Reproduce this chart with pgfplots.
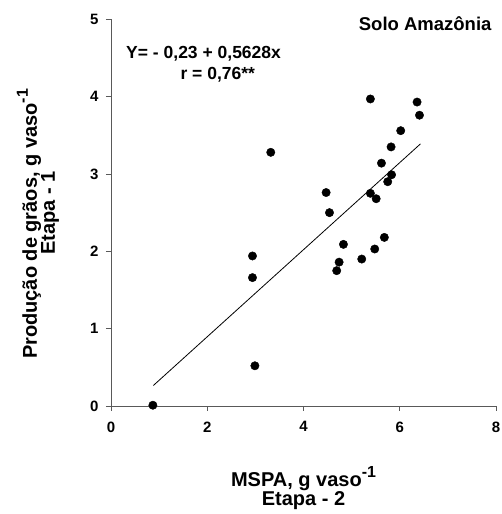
\documentclass[border=0pt]{standalone}
\usepackage{fontspec}
\setmainfont{Liberation Sans}
\usepackage{pgfplots}
\pgfplotsset{compat=1.18}
\begin{document}
\begin{tikzpicture}[font=\bfseries]
\useasboundingbox (-111pt,-108pt) rectangle (390pt,406pt);
\begin{axis}[
  at={(0pt,0pt)}, anchor=south west,
  scale only axis, width=385pt, height=386.7pt,
  xmin=0, xmax=8, ymin=0, ymax=5,
  axis lines*=left,
  axis line style={black!65, line width=0.9pt},
  xtick={0,2,4,6,8}, ytick={0,1,2,3,4,5},
  tick align=outside, major tick length=5pt,
  tick style={black!65, line width=0.9pt},
  ticklabel style={font=\fontsize{15}{18}\selectfont\bfseries},
  /pgf/number format/assume math mode=true,
  xticklabel style={yshift=-7pt},
  yticklabel style={xshift=-4pt},
  clip=false,
]
\addplot[only marks, mark=*, mark size=4.2pt, black] table {
x y
0.87 0.01
2.94 1.94
2.94 1.66
2.99 0.52
3.32 3.28
4.47 2.76
4.54 2.50
4.69 1.75
4.74 1.86
4.83 2.09
5.21 1.90
5.39 3.97
5.39 2.75
5.48 2.03
5.51 2.68
5.62 3.14
5.68 2.18
5.75 2.90
5.83 2.99
5.82 3.35
6.02 3.56
6.36 3.93
6.41 3.76
};
\addplot[black, line width=0.8pt] table {
x y
0.88 0.265
6.43 3.389
};
\end{axis}
\node[anchor=base west, font=\fontsize{17.5}{20}\selectfont\bfseries] at (11.7pt,347pt) {Y= - 0,23 + 0,5628x};
\node[anchor=base west, font=\fontsize{17.5}{20}\selectfont\bfseries] at (66pt,326pt) {r = 0,76**};
\node[anchor=base east, font=\fontsize{18.5}{20}\selectfont\bfseries] at (384pt,375pt) {Solo Amazônia};
\node[anchor=base, font=\fontsize{20}{22}\selectfont\bfseries] at (192.5pt,-80pt) {MSPA, g vaso\raisebox{0.45em}{\fontsize{16}{16}\selectfont -1}};
\node[anchor=base, font=\fontsize{20}{22}\selectfont\bfseries] at (192.5pt,-99pt) {Etapa - 2};
\node[anchor=base, rotate=90, font=\fontsize{20}{22}\selectfont\bfseries] at (-74pt,182pt) {Produção de grãos, g vaso\raisebox{0.45em}{\fontsize{16}{16}\selectfont -1}};
\node[anchor=base, rotate=90, font=\fontsize{20}{22}\selectfont\bfseries] at (-56pt,193pt) {Etapa - 1};
\end{tikzpicture}
\end{document}
